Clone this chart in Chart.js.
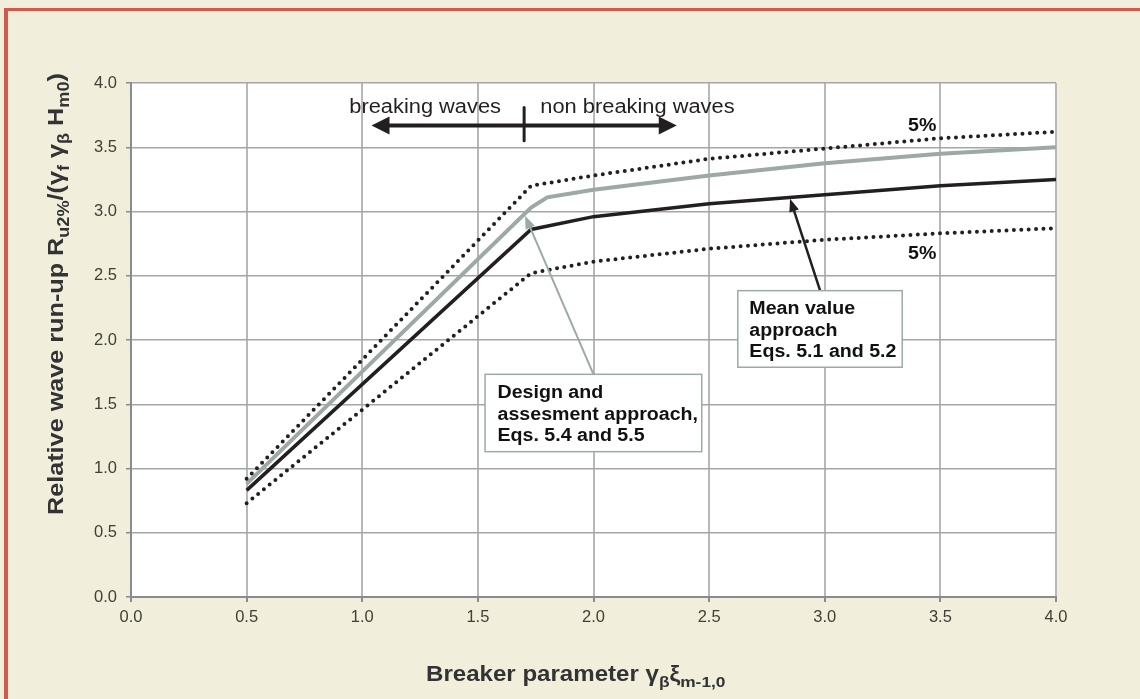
<!DOCTYPE html>
<html>
<head>
<meta charset="utf-8">
<script src="https://cdn.jsdelivr.net/npm/chart.js@4.4.1/dist/chart.umd.min.js"></script>
<style>
  html, body { margin: 0; padding: 0; background: #f1efdc; overflow: hidden; }
  #frame { position: absolute; left: 4px; top: 8px; width: 1200px; height: 800px;
           border-left: 4px solid #d15a4b; border-top: 3px solid #d15a4b; pointer-events: none; }
  #c { position: absolute; left: 0; top: 0; }
</style>
</head>
<body>
<div id="frame"></div>
<canvas id="c" width="1140" height="699"></canvas>
<script>
// axis ticks
const xTicks = [0, 0.5, 1, 1.5, 2, 2.5, 3, 3.5, 4];
const yTicks = [0, 0.5, 1, 1.5, 2, 2.5, 3, 3.5, 4];

// mean value approach (black)
const meanX = [0.5, 1.73, 2.0, 2.5, 3.0, 3.5, 4.0];
const meanY = [0.83, 2.86, 2.96, 3.06, 3.13, 3.20, 3.25];

// design and assessment approach (grey)
const designX = [0.5, 1.73, 1.80, 2.0, 2.5, 3.0, 3.5, 4.0];
const designY = [0.88, 3.03, 3.11, 3.17, 3.28, 3.375, 3.45, 3.50];

// 5% exceedance bounds (dotted)
const upperX = [0.5, 1.73, 2.0, 2.5, 3.0, 3.5, 4.0];
const upperY = [0.92, 3.20, 3.28, 3.41, 3.49, 3.57, 3.62];
const lowerX = [0.5, 1.73, 2.0, 2.5, 3.0, 3.5, 4.0];
const lowerY = [0.73, 2.52, 2.61, 2.71, 2.78, 2.83, 2.87];

const FONT = '"Liberation Sans", Arial, Helvetica, sans-serif';
const STRETCH = 1.12;

function toPoints(xs, ys) {
    return xs.map((x, i) => ({ x: x, y: ys[i] }));
}

// draw a run of text parts (normal / subscript), stretched along the text direction
function drawRich(ctx, parts, x, y, size, weight, color, angle) {
    ctx.save();
    ctx.translate(x, y);
    if (angle) ctx.rotate(angle);
    ctx.scale(STRETCH, 1);
    ctx.fillStyle = color;
    ctx.textBaseline = 'alphabetic';
    ctx.textAlign = 'left';
    let cx = 0;
    parts.forEach(p => {
        let fs = p.sub ? size * 0.72 : size;
        ctx.font = weight + ' ' + fs + 'px ' + FONT;
        ctx.fillText(p.t, cx, p.sub ? size * 0.27 : 0);
        cx += ctx.measureText(p.t).width;
    });
    ctx.restore();
}

function textWidth(ctx, str, size, weight) {
    ctx.font = weight + ' ' + size + 'px ' + FONT;
    return ctx.measureText(str).width * STRETCH;
}

function arrowHead(ctx, x1, y1, x2, y2, len, half) {
    let a = Math.atan2(y2 - y1, x2 - x1);
    ctx.beginPath();
    ctx.moveTo(x2, y2);
    ctx.lineTo(x2 - len * Math.cos(a) + half * Math.sin(a), y2 - len * Math.sin(a) - half * Math.cos(a));
    ctx.lineTo(x2 - len * Math.cos(a) - half * Math.sin(a), y2 - len * Math.sin(a) + half * Math.cos(a));
    ctx.closePath();
    ctx.fill();
}

const plotBg = {
    id: 'plotBg',
    beforeDraw(chart) {
        let a = chart.chartArea, ctx = chart.ctx;
        ctx.save();
        ctx.fillStyle = '#ffffff';
        ctx.fillRect(a.left, a.top, a.right - a.left, a.bottom - a.top);
        ctx.restore();
    }
};

const notes = {
    id: 'notes',
    afterDatasetsDraw(chart) {
        let ctx = chart.ctx, sx = chart.scales.x, sy = chart.scales.y;
        let px = v => sx.getPixelForValue(v), py = v => sy.getPixelForValue(v);

        // breaking / non breaking waves
        let ink = '#231f20';
        let w = textWidth(ctx, 'breaking waves', 19.5, 'normal');
        drawRich(ctx, [{ t: 'breaking waves' }], px(1.60) - w, py(3.77), 19.5, 'normal', ink);
        drawRich(ctx, [{ t: 'non breaking waves' }], px(1.77), py(3.77), 19.5, 'normal', ink);
        ctx.save();
        ctx.strokeStyle = ink;
        ctx.fillStyle = ink;
        ctx.lineWidth = 4;
        ctx.beginPath();
        ctx.moveTo(px(1.04) + 12, py(3.67));
        ctx.lineTo(px(2.36) - 12, py(3.67));
        ctx.stroke();
        arrowHead(ctx, px(1.5), py(3.67), px(1.04), py(3.67), 18, 9);
        arrowHead(ctx, px(1.5), py(3.67), px(2.36), py(3.67), 18, 9);
        ctx.lineWidth = 3;
        ctx.lineCap = 'round';
        ctx.beginPath();
        ctx.moveTo(px(1.70), py(3.81));
        ctx.lineTo(px(1.70), py(3.55));
        ctx.stroke();
        ctx.restore();

        // 5% labels
        drawRich(ctx, [{ t: '5%' }], px(3.36), py(3.626), 17.5, 'bold', '#111');
        drawRich(ctx, [{ t: '5%' }], px(3.36), py(2.63), 17.5, 'bold', '#111');

        // callout boxes
        let boxes = [
            { x0: 1.531, x1: 2.468, y0: 1.733, y1: 1.131, tx: 1.585, ty: [1.551, 1.377, 1.214],
              lines: ['Design and', 'assesment approach,', 'Eqs. 5.4 and 5.5'],
              from: [2.0, 1.733], to: [1.704, 2.967], color: '#9ca9a4', lw: 2 },
            { x0: 2.624, x1: 3.335, y0: 2.384, y1: 1.788, tx: 2.674, ty: [2.202, 2.033, 1.870],
              lines: ['Mean value', 'approach', 'Eqs. 5.1 and 5.2'],
              from: [2.98, 2.384], to: [2.85, 3.10], color: '#231f20', lw: 2.5 }
        ];
        boxes.forEach(b => {
            ctx.save();
            ctx.strokeStyle = b.color;
            ctx.fillStyle = b.color;
            ctx.lineWidth = b.lw;
            let fx = px(b.from[0]), fy = py(b.from[1]), tx = px(b.to[0]), ty = py(b.to[1]);
            let a = Math.atan2(ty - fy, tx - fx);
            ctx.beginPath();
            ctx.moveTo(fx, fy);
            ctx.lineTo(tx - 10 * Math.cos(a), ty - 10 * Math.sin(a));
            ctx.stroke();
            arrowHead(ctx, fx, fy, tx, ty, 13, 5);
            ctx.fillStyle = '#ffffff';
            ctx.strokeStyle = '#9ca9a4';
            ctx.lineWidth = 1.5;
            ctx.fillRect(px(b.x0), py(b.y0), px(b.x1) - px(b.x0), py(b.y1) - py(b.y0));
            ctx.strokeRect(px(b.x0), py(b.y0), px(b.x1) - px(b.x0), py(b.y1) - py(b.y0));
            ctx.restore();
            b.lines.forEach((l, i) => {
                drawRich(ctx, [{ t: l }], px(b.tx), py(b.ty[i]), 17.5, 'bold', '#111');
            });
        });

        // axis titles
        drawRich(ctx, [
            { t: 'Relative wave run-up R' }, { t: 'u2%', sub: true }, { t: '/(γ' }, { t: 'f', sub: true },
            { t: ' γ' }, { t: 'β', sub: true }, { t: ' H' }, { t: 'm0', sub: true }, { t: ')' }
        ], 63, 515, 22.5, 'bold', '#333333', -Math.PI / 2);
        drawRich(ctx, [
            { t: 'Breaker parameter γ' }, { t: 'β', sub: true }, { t: 'ξ' }, { t: 'm-1,0', sub: true }
        ], 426, 681, 21.5, 'bold', '#333333');
    }
};

let ctx = document.getElementById('c').getContext('2d');

let chart = new Chart(ctx, {
    type: 'line',
    data: {
        datasets: [
            { data: toPoints(upperX, upperY), borderColor: '#231f20', borderWidth: 4,
              borderDash: [0, 7.4], borderCapStyle: 'round' },
            { data: toPoints(lowerX, lowerY), borderColor: '#231f20', borderWidth: 4,
              borderDash: [0, 7.4], borderCapStyle: 'round' },
            { data: toPoints(designX, designY), borderColor: '#9ca9a4', borderWidth: 4 },
            { data: toPoints(meanX, meanY), borderColor: '#231f20', borderWidth: 3.5 }
        ]
    },
    options: {
        responsive: false,
        devicePixelRatio: 1,
        animation: false,
        events: [],
        elements: { point: { radius: 0 }, line: { tension: 0 } },
        layout: { padding: { top: 83, right: 84, left: 0, bottom: 0 } },
        plugins: { legend: { display: false }, tooltip: { enabled: false } },
        scales: {
            x: {
                type: 'linear', min: 0, max: 4,
                afterFit: s => { s.height = 102; },
                afterBuildTicks: s => { s.ticks = xTicks.map(v => ({ value: v })); },
                ticks: { callback: v => v.toFixed(1), color: '#404035', padding: 6,
                         font: { family: FONT, size: 16.5 } },
                grid: { color: '#b8b8b8', lineWidth: 2, tickLength: 5, tickColor: '#8a8a92' },
                border: { color: '#8a8a92', width: 2 }
            },
            y: {
                type: 'linear', min: 0, max: 4,
                afterFit: s => { s.width = 131; },
                afterBuildTicks: s => { s.ticks = yTicks.map(v => ({ value: v })); },
                ticks: { callback: v => v.toFixed(1), color: '#404035', padding: 9,
                         font: { family: FONT, size: 16.5 } },
                grid: { color: '#a6a6a6', lineWidth: 1.5, tickLength: 5, tickColor: '#8a8a92' },
                border: { color: '#8a8a92', width: 2 }
            }
        }
    },
    plugins: [plotBg, notes]
});
</script>
</body>
</html>
